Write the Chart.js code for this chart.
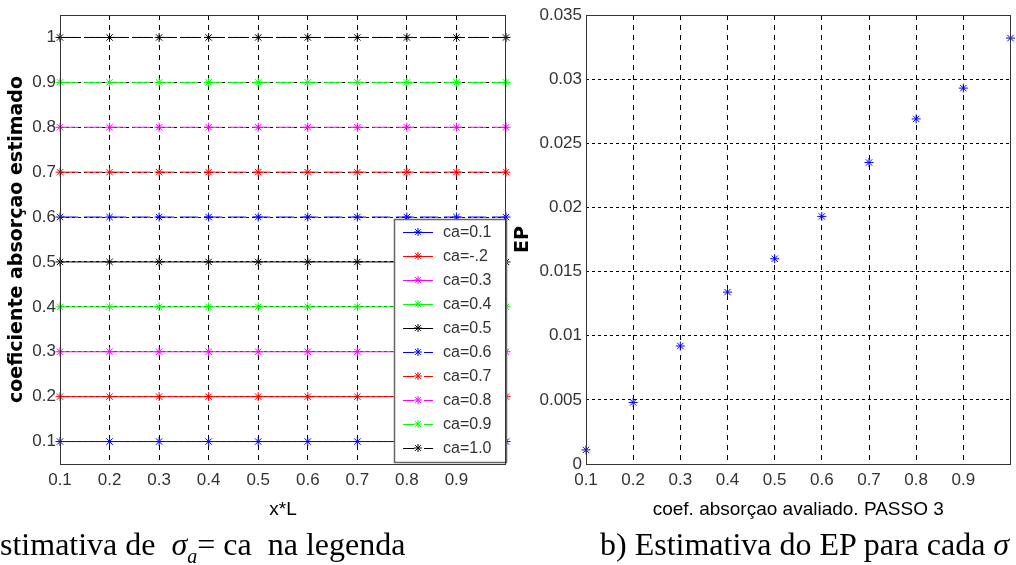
<!DOCTYPE html>
<html>
<head>
<meta charset="utf-8">
<script src="https://cdn.jsdelivr.net/npm/chart.js@4.4.1/dist/chart.umd.min.js"></script>
<style>
  html, body { margin: 0; padding: 0; background: #fff; overflow: hidden; }
  #wrap { position: relative; width: 1016px; height: 565px; overflow: hidden; }
  canvas { position: absolute; top: 0; }
  #c1 { left: 0; }
  #c2 { left: 510px; }
  .cap { position: absolute; top: 528px; font-family: 'Liberation Serif', 'Times New Roman', serif;
         font-size: 32px; line-height: 32px; white-space: nowrap; color: #000; }
  .cap sub { font-size: 20px; vertical-align: -8px; line-height: 0; }
</style>
</head>
<body>
<div id="wrap">
  <canvas id="c1" width="520" height="565"></canvas>
  <canvas id="c2" width="506" height="565"></canvas>
  <div class="cap" style="left:0">stimativa de&nbsp; <i>σ</i><sub><i>a</i></sub>= ca&nbsp; na legenda</div>
  <div class="cap" style="left:600px">b) Estimativa do EP para cada <i>σ</i></div>
</div>
<script>
// left panel: estimated absorption coefficient along x*L
const xValues = [0.1, 0.2, 0.3, 0.4, 0.5, 0.6, 0.7, 0.8, 0.9, 1.0];
const seriesLabels = ['ca=0.1', 'ca=-.2', 'ca=0.3', 'ca=0.4', 'ca=0.5',
                      'ca=0.6', 'ca=0.7', 'ca=0.8', 'ca=0.9', 'ca=1.0'];
const ca01 = [0.1, 0.1, 0.1, 0.1, 0.1, 0.1, 0.1, 0.1, 0.1, 0.1];
const ca02 = [0.2, 0.2, 0.2, 0.2, 0.2, 0.2, 0.2, 0.2, 0.2, 0.2];
const ca03 = [0.3, 0.3, 0.3, 0.3, 0.3, 0.3, 0.3, 0.3, 0.3, 0.3];
const ca04 = [0.4, 0.4, 0.4, 0.4, 0.4, 0.4, 0.4, 0.4, 0.4, 0.4];
const ca05 = [0.5, 0.5, 0.5, 0.5, 0.5, 0.5, 0.5, 0.5, 0.5, 0.5];
const ca06 = [0.6, 0.6, 0.6, 0.6, 0.6, 0.6, 0.6, 0.6, 0.6, 0.6];
const ca07 = [0.7, 0.7, 0.7, 0.7, 0.7, 0.7, 0.7, 0.7, 0.7, 0.7];
const ca08 = [0.8, 0.8, 0.8, 0.8, 0.8, 0.8, 0.8, 0.8, 0.8, 0.8];
const ca09 = [0.9, 0.9, 0.9, 0.9, 0.9, 0.9, 0.9, 0.9, 0.9, 0.9];
const ca10 = [1.0, 1.0, 1.0, 1.0, 1.0, 1.0, 1.0, 1.0, 1.0, 1.0];
const xTicks = [0.1, 0.2, 0.3, 0.4, 0.5, 0.6, 0.7, 0.8, 0.9];
const xTickLabels = ['0.1', '0.2', '0.3', '0.4', '0.5', '0.6', '0.7', '0.8', '0.9'];
const caTicks = [0.1, 0.2, 0.3, 0.4, 0.5, 0.6, 0.7, 0.8, 0.9, 1.0];
const caTickLabels = ['0.1', '0.2', '0.3', '0.4', '0.5', '0.6', '0.7', '0.8', '0.9', '1'];

// right panel: EP for each evaluated coefficient
const epX = [0.1, 0.2, 0.3, 0.4, 0.5, 0.6, 0.7, 0.8, 0.9, 1.0];
const epValues = [0.0011, 0.0048, 0.0092, 0.0134, 0.0160, 0.0193, 0.0235, 0.0269, 0.0293, 0.0332];
const epTicks = [0, 0.005, 0.01, 0.015, 0.02, 0.025, 0.03, 0.035];
const epTickLabels = ['0', '0.005', '0.01', '0.015', '0.02', '0.025', '0.03', '0.035'];

const caSeries = [ca01, ca02, ca03, ca04, ca05, ca06, ca07, ca08, ca09, ca10];
const colors = ['#0000ff', '#ff0000', '#ff00ff', '#00ff00', '#000000'];

const tickFont = { family: "'Liberation Sans', Arial, sans-serif", size: 17 };
const legendFont = "16px 'Liberation Sans', Arial, sans-serif";
const yTitleFont = { family: "'DejaVu Sans', sans-serif", size: 19, weight: 'bold' };
const xTitleFont = { family: "'Liberation Sans', Arial, sans-serif", size: 19 };

// MATLAB style box round the axes
const boxPlugin = {
    id: 'axesBox',
    afterDraw(chart) {
        const { ctx, chartArea: a } = chart;
        ctx.save();
        ctx.strokeStyle = '#333';
        ctx.lineWidth = 1;
        ctx.strokeRect(Math.round(a.left) + 0.5, Math.round(a.top) + 0.5,
                       Math.round(a.right - a.left) - 1, Math.round(a.bottom - a.top));
        ctx.restore();
    },
};

// legend box in the lower right corner of the left axes
const legendPlugin = {
    id: 'boxLegend',
    afterDatasetsDraw(chart) {
        const { ctx, chartArea: a } = chart;
        const sets = chart.data.datasets;
        const rowH = 24;
        const w = 112, h = sets.length * rowH + 3;
        const x0 = a.right - w, y0 = a.bottom - 2 - h;
        ctx.save();
        ctx.fillStyle = '#fff';
        ctx.fillRect(x0, y0, w, h);
        ctx.strokeStyle = '#666';
        ctx.lineWidth = 1.5;
        ctx.strokeRect(x0 + 0.5, y0 + 0.5, w, h);
        sets.forEach((ds, i) => {
            const cy = y0 + 13 + i * rowH;
            ctx.strokeStyle = ds.borderColor;
            ctx.fillStyle = ds.borderColor;
            ctx.lineWidth = 1;
            ctx.setLineDash(ds.borderDash.length ? [11, 10] : []);
            ctx.beginPath();
            ctx.moveTo(x0 + 9, cy + 0.5);
            ctx.lineTo(x0 + 39, cy + 0.5);
            ctx.stroke();
            ctx.setLineDash([]);
            Chart.helpers.drawPoint(ctx, { pointStyle: 'star', radius: 4, borderWidth: 1, rotation: 0 }, x0 + 24, cy);
            ctx.fillStyle = '#333';
            ctx.font = legendFont;
            ctx.textBaseline = 'middle';
            ctx.textAlign = 'left';
            ctx.fillText(seriesLabels[i], x0 + 49, cy + 1);
        });
        ctx.restore();
    },
};

new Chart(document.getElementById('c1'), {
    type: 'line',
    data: {
        datasets: caSeries.map((vals, i) => ({
            label: seriesLabels[i],
            data: xValues.map((x, j) => ({ x: x, y: vals[j] })),
            borderColor: colors[i % 5],
            backgroundColor: colors[i % 5],
            borderWidth: 1,
            borderDash: i >= 5 ? [18, 6] : [],
            pointStyle: 'star',
            pointRadius: 4.5,
            pointHoverRadius: 4.5,
            pointBorderWidth: 1,
            tension: 0,
            fill: false,
            clip: false,
        })),
    },
    options: {
        responsive: false,
        animation: false,
        events: [],
        layout: { padding: { left: 0, top: 15, right: 14, bottom: 0 } },
        plugins: { legend: { display: false }, tooltip: { enabled: false } },
        scales: {
            x: {
                type: 'linear', min: 0.1, max: 1.0,
                afterBuildTicks: s => { s.ticks = xTicks.map(v => ({ value: v })); },
                afterFit: s => { s.height = 101; },
                ticks: { autoSkip: false, maxRotation: 0, padding: 6, font: tickFont, color: '#333',
                         callback: (v, i) => xTickLabels[i] },
                grid: { color: '#000', lineWidth: 1, drawTicks: false },
                border: { display: false, dash: [5, 5] },
                title: { display: true, text: 'x*L', font: xTitleFont, color: '#000', padding: { top: 0, bottom: 44 } },
            },
            y: {
                type: 'linear', min: 0.05, max: 1.05,
                afterBuildTicks: s => { s.ticks = caTicks.map(v => ({ value: v })); },
                afterFit: s => { s.width = 60; },
                ticks: { autoSkip: false, padding: 4, font: tickFont, color: '#333',
                         callback: (v, i) => caTickLabels[i] },
                grid: { color: '#000', lineWidth: 1, drawTicks: false },
                border: { display: false, dash: [3, 3] },
                title: { display: true, text: 'coeficiente absorçao estimado', font: yTitleFont, color: '#000',
                         padding: { top: 6, bottom: 0 } },
            },
        },
    },
    plugins: [legendPlugin, boxPlugin],
});

new Chart(document.getElementById('c2'), {
    type: 'scatter',
    data: {
        datasets: [{
            label: 'EP',
            data: epX.map((x, i) => ({ x: x, y: epValues[i] })),
            borderColor: '#0000ff',
            backgroundColor: '#0000ff',
            showLine: false,
            pointStyle: 'star',
            pointRadius: 4.5,
            pointHoverRadius: 4.5,
            pointBorderWidth: 1,
            clip: false,
        }],
    },
    options: {
        responsive: false,
        animation: false,
        events: [],
        layout: { padding: { left: 0, top: 15, right: 1, bottom: 0 } },
        plugins: { legend: { display: false }, tooltip: { enabled: false } },
        scales: {
            x: {
                type: 'linear', min: 0.1, max: 1.0,
                afterBuildTicks: s => { s.ticks = xTicks.map(v => ({ value: v })); },
                afterFit: s => { s.height = 101; },
                ticks: { autoSkip: false, maxRotation: 0, padding: 6, font: tickFont, color: '#333',
                         callback: (v, i) => xTickLabels[i] },
                grid: { color: '#000', lineWidth: 1, drawTicks: false },
                border: { display: false, dash: [5, 5] },
                title: { display: true, text: 'coef. absorçao avaliado. PASSO 3', font: xTitleFont, color: '#000',
                         padding: { top: 0, bottom: 44 } },
            },
            y: {
                type: 'linear', min: 0, max: 0.035,
                afterBuildTicks: s => { s.ticks = epTicks.map(v => ({ value: v })); },
                afterFit: s => { s.width = 76; },
                ticks: { autoSkip: false, padding: 4, font: tickFont, color: '#333',
                         callback: (v, i) => epTickLabels[i] },
                grid: { color: '#000', lineWidth: 1, drawTicks: false },
                border: { display: false, dash: [3, 3] },
                title: { display: true, text: 'EP', font: yTitleFont, color: '#000', padding: { top: 2, bottom: 0 } },
            },
        },
    },
    plugins: [boxPlugin],
});
</script>
</body>
</html>
